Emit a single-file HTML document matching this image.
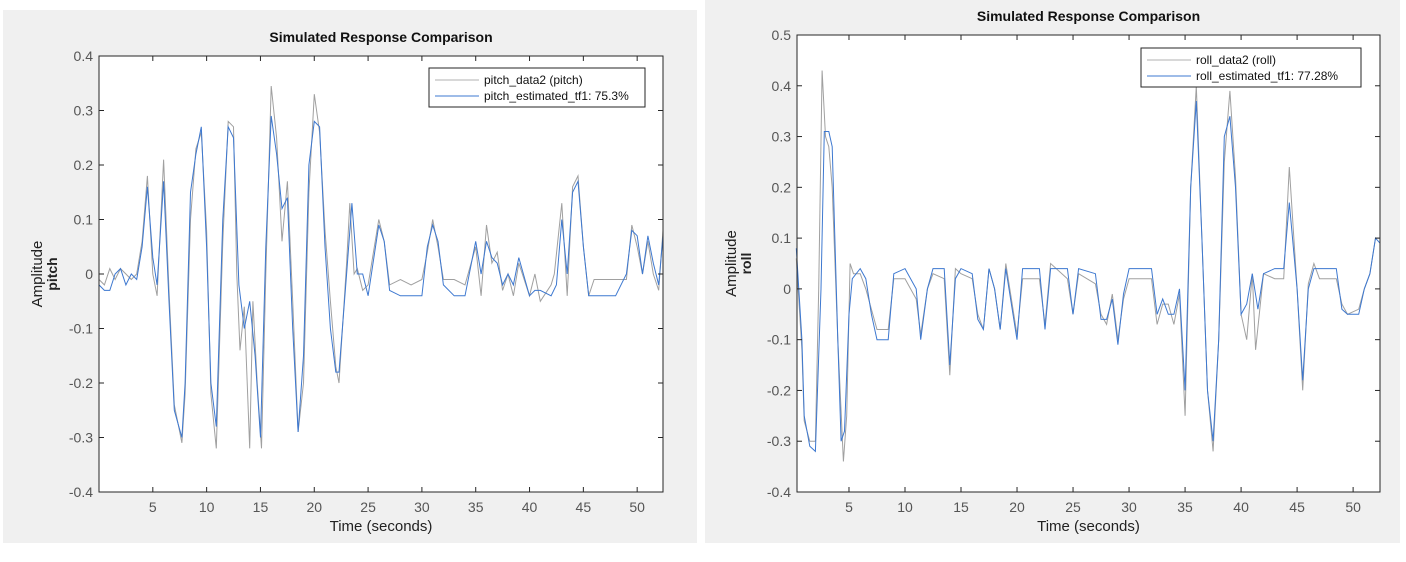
<!DOCTYPE html>
<html><head><meta charset="utf-8"><style>
body{margin:0;background:#fff;font-family:"Liberation Sans",sans-serif}
svg text{font-family:"Liberation Sans",sans-serif}
</style></head><body>
<svg id="s" width="1406" height="557">
<rect x="3" y="10" width="694" height="533" fill="#f0f0f0"/>
<rect x="705" y="0" width="695" height="543" fill="#f0f0f0"/>
<g id="g1"></g>
<g id="g2"></g>
</svg>
<script>
// pitch chart data
const pitchEstT=[0,0.5,1,1.5,2,2.5,3,3.5,4,4.5,5,5.4,6,6.5,7,7.7,8,8.5,9,9.5,10,10.4,10.9,11.5,12,12.5,13,13.5,14,14.5,15,15.5,16,16.5,17,17.5,18,18.5,19,19.5,20,20.5,21,21.5,22,22.3,23,23.5,24,24.5,25,26,26.5,27,28,30,30.5,31,31.5,32,33,34,35,35.5,36,36.5,37,37.5,38,38.5,39,40,40.5,41,42,42.5,43,43.5,44,44.5,45,45.5,46,48,49,49.5,50,50.5,51,51.5,52,52.4];
const pitchEstV=[-0.02,-0.03,-0.03,0.0,0.01,-0.02,0.0,-0.01,0.05,0.16,0.03,-0.02,0.17,-0.05,-0.25,-0.30,-0.2,0.15,0.22,0.27,0.05,-0.2,-0.28,0.1,0.27,0.25,-0.02,-0.1,-0.05,-0.15,-0.3,0.05,0.29,0.22,0.12,0.14,-0.1,-0.29,-0.15,0.2,0.28,0.27,0.05,-0.1,-0.18,-0.18,0.0,0.13,0.0,0.0,-0.04,0.09,0.06,-0.03,-0.04,-0.04,0.05,0.09,0.06,-0.02,-0.04,-0.04,0.06,0.0,0.06,0.03,0.02,-0.02,0.0,-0.02,0.03,-0.04,-0.03,-0.03,-0.04,-0.02,0.1,0.0,0.15,0.17,0.05,-0.04,-0.04,-0.04,0.0,0.08,0.07,0.0,0.07,0.02,-0.02,0.07];
const pitchDataT=[0,0.5,1,1.5,2,2.5,3,3.5,4,4.5,5,5.4,6,6.5,7,7.7,8,8.5,9,9.5,10,10.4,10.9,11.5,12,12.5,12.8,13.1,13.5,14,14.3,14.7,15.1,15.5,16,16.5,17,17.5,18,18.5,19,19.5,20,20.5,21,21.5,22,22.3,23,23.3,23.7,24,24.5,25,26,26.5,27,28,29,30,30.5,31,31.5,32,33,34,35,35.5,36,36.5,37,37.5,38,38.5,39,40,40.5,41,42,42.3,43,43.5,44,44.5,45,45.5,46,47,48,49,49.5,50,50.5,51,51.5,52,52.4];
const pitchDataV=[-0.01,-0.02,0.01,-0.01,0.01,0.0,-0.01,0.0,0.06,0.18,0.0,-0.04,0.21,-0.03,-0.24,-0.31,-0.22,0.1,0.23,0.26,0.08,-0.22,-0.32,0.06,0.28,0.27,0.0,-0.14,-0.06,-0.32,-0.05,-0.2,-0.32,0.0,0.345,0.25,0.06,0.17,-0.05,-0.29,-0.2,0.15,0.33,0.26,0.08,-0.05,-0.17,-0.2,0.02,0.13,0.0,0.01,-0.03,-0.02,0.1,0.06,-0.02,-0.01,-0.02,-0.01,0.04,0.1,0.05,-0.01,-0.01,-0.02,0.05,-0.04,0.09,0.02,0.04,-0.03,0.0,-0.04,0.02,-0.04,0.0,-0.05,-0.02,0.0,0.13,-0.04,0.16,0.18,0.05,-0.04,-0.01,-0.01,-0.01,-0.01,0.09,0.05,0.0,0.06,0.0,-0.03,0.08];
const pitchYTicks=[-0.4,-0.3,-0.2,-0.1,0,0.1,0.2,0.3,0.4];
const xTicks=[5,10,15,20,25,30,35,40,45,50];
// roll chart data
const rollEstT=[0.3,0.8,1,1.5,2,2.5,2.8,3.2,3.5,4,4.3,4.6,5,5.3,6,6.5,7,7.5,8.5,9,10,11,11.4,12,12.5,13.5,14,14.5,15,16,16.5,17,17.5,18,18.5,19,20,20.5,22,22.5,23,24.5,25,25.5,27,27.5,28,28.5,29,29.5,30,32,32.5,33,33.5,34,34.5,35,35.5,36,36.5,37,37.5,38,38.5,39,39.5,40,40.5,41,41.5,42,43,43.8,44.3,45,45.5,46,46.5,47,48.5,49,49.5,50.5,51,51.5,52,52.4];
const rollEstV=[0.08,-0.1,-0.25,-0.31,-0.32,0.0,0.31,0.31,0.28,-0.1,-0.3,-0.28,-0.05,0.02,0.04,0.02,-0.05,-0.1,-0.1,0.03,0.04,0.0,-0.1,0.0,0.04,0.04,-0.15,0.02,0.04,0.03,-0.06,-0.08,0.04,0.0,-0.08,0.04,-0.1,0.04,0.04,-0.08,0.04,0.04,-0.05,0.04,0.03,-0.06,-0.06,-0.02,-0.11,-0.01,0.04,0.04,-0.05,-0.02,-0.05,-0.05,0.0,-0.2,0.2,0.37,0.1,-0.2,-0.3,-0.1,0.3,0.34,0.2,-0.05,-0.03,0.03,-0.04,0.03,0.04,0.04,0.17,0.0,-0.18,0.0,0.04,0.04,0.04,-0.04,-0.05,-0.05,0.0,0.03,0.1,0.09];
const rollDataT=[0.3,0.8,1,1.5,2,2.3,2.6,2.9,3.2,3.5,4,4.5,4.8,5.1,5.4,6,6.5,7,7.5,8.5,9,10,11,11.4,12,12.5,13.5,14,14.5,15,16,16.5,17,17.5,18,18.5,19,20,20.5,22,22.5,23,24.5,25,25.5,27,27.5,28,28.5,29,29.5,30,32,32.5,33,33.5,34,34.5,35,35.5,36,36.5,37,37.5,38,38.5,39,39.5,40,40.5,41,41.3,42,43,43.8,44.3,45,45.5,46,46.5,47,48.5,49,49.5,50.5,51,51.5,52,52.4];
const rollDataV=[0.06,-0.12,-0.26,-0.3,-0.3,0.0,0.43,0.3,0.28,0.2,-0.1,-0.34,-0.25,0.05,0.03,0.03,0.0,-0.04,-0.08,-0.08,0.02,0.02,-0.02,-0.09,0.0,0.03,0.02,-0.17,0.04,0.03,0.02,-0.05,-0.08,0.04,0.0,-0.08,0.05,-0.09,0.02,0.02,-0.07,0.05,0.02,-0.05,0.03,0.01,-0.05,-0.07,-0.01,-0.1,-0.02,0.02,0.02,-0.07,-0.03,-0.03,-0.07,-0.01,-0.25,0.2,0.4,0.1,-0.2,-0.32,-0.1,0.25,0.39,0.22,-0.05,-0.1,0.03,-0.12,0.03,0.02,0.02,0.24,0.0,-0.2,0.01,0.05,0.02,0.02,-0.03,-0.05,-0.04,0.0,0.03,0.1,0.1];
const rollYTicks=[-0.4,-0.3,-0.2,-0.1,0,0.1,0.2,0.3,0.4,0.5];

const NS='http://www.w3.org/2000/svg';
function mk(p,tag,attrs){const e=document.createElementNS(NS,tag);for(const k in attrs)e.setAttribute(k,attrs[k]);p.appendChild(e);return e;}
function chart(g,cfg){
  const sx=t=>cfg.L+(t-cfg.x0)/(cfg.x1-cfg.x0)*(cfg.R-cfg.L);
  const sy=v=>cfg.B-(v-cfg.y0)/(cfg.y1-cfg.y0)*(cfg.B-cfg.T);
  const bg=mk(g,'rect',{x:cfg.L,y:cfg.T,width:cfg.R-cfg.L,height:cfg.B-cfg.T,fill:'#fff'});
  
  
  const line=(T,V,col,name)=>{
    const d=T.map((t,i)=>(i?'L':'M')+sx(t).toFixed(1)+' '+sy(V[i]).toFixed(1)).join(' ');
    const p=mk(g,'path',{d:d,fill:'none',stroke:col,'stroke-width':1});
    
    
  };
  line(cfg.dT,cfg.dV,'#a0a0a0',cfg.n1+'-line');
  line(cfg.eT,cfg.eV,'#3d78d0',cfg.n2+'-line');
  const ax=mk(g,'rect',{x:cfg.L,y:cfg.T,width:cfg.R-cfg.L,height:cfg.B-cfg.T,fill:'none',stroke:'#262626','stroke-width':1});
  
  
  cfg.yt.forEach(v=>{
    const y=sy(v);
    mk(g,'line',{x1:cfg.L,x2:cfg.L+5,y1:y,y2:y,stroke:'#262626'});
    mk(g,'line',{x1:cfg.R,x2:cfg.R-5,y1:y,y2:y,stroke:'#262626'});
    const t=mk(g,'text',{x:cfg.L-6,y:y+5,'text-anchor':'end','font-size':14,fill:'#555'});
    t.textContent=(v===0?'0':v.toFixed(1));
    
    
  });
  xTicks.forEach(v=>{
    const x=sx(v);
    mk(g,'line',{x1:x,x2:x,y1:cfg.B,y2:cfg.B-5,stroke:'#262626'});
    mk(g,'line',{x1:x,x2:x,y1:cfg.T,y2:cfg.T+5,stroke:'#262626'});
    const t=mk(g,'text',{x:x,y:cfg.B+20,'text-anchor':'middle','font-size':14,fill:'#555'});
    t.textContent=v;
    
    
  });
  const ti=mk(g,'text',{x:(cfg.L+cfg.R)/2,y:cfg.T-14,'text-anchor':'middle','font-size':14,'font-weight':'bold',fill:'#111'});
  ti.textContent='Simulated Response Comparison';
  
  
  const xl=mk(g,'text',{x:(cfg.L+cfg.R)/2,y:cfg.B+39,'text-anchor':'middle','font-size':15,fill:'#222'});
  xl.textContent='Time (seconds)';
  
  
  const cy=(cfg.T+cfg.B)/2;
  const yl=mk(g,'text',{x:cfg.ylx,y:cy,'text-anchor':'middle','font-size':15,fill:'#222',transform:`rotate(-90 ${cfg.ylx} ${cy})`});
  yl.textContent='Amplitude';
  
  
  const yl2=mk(g,'text',{x:cfg.ylx+15,y:cy,'text-anchor':'middle','font-size':14,'font-weight':'bold',fill:'#222',transform:`rotate(-90 ${cfg.ylx+15} ${cy})`});
  yl2.textContent=cfg.ch;
  
  
  const lg=mk(g,'g',{});
  
  
  mk(lg,'rect',{x:cfg.lx,y:cfg.ly,width:cfg.lw,height:39,fill:'#fff',stroke:'#262626'});
  [[cfg.n1,'#b0b0b0'],[cfg.n2label,'#3d78d0']].forEach((e,i)=>{
    const yy=cfg.ly+12+i*16;
    mk(lg,'line',{x1:cfg.lx+6,x2:cfg.lx+50,y1:yy,y2:yy,stroke:e[1]});
    const t=mk(lg,'text',{x:cfg.lx+55,y:yy+4,'font-size':12,fill:'#111'});
    t.textContent=e[0];
    
    
  });
}
chart(document.getElementById('g1'),{L:99,R:663,T:56,B:492,x0:0,x1:52.4,y0:-0.4,y1:0.4,dT:pitchDataT,dV:pitchDataV,eT:pitchEstT,eV:pitchEstV,yt:pitchYTicks,n1:'pitch_data2 (pitch)',n2:'pitch-estimated',n2label:'pitch_estimated_tf1: 75.3%',ch:'pitch',ylx:42,lx:429,ly:68,lw:216});
chart(document.getElementById('g2'),{L:797,R:1380,T:35,B:492,x0:0.36,x1:52.4,y0:-0.4,y1:0.5,dT:rollDataT,dV:rollDataV,eT:rollEstT,eV:rollEstV,yt:rollYTicks,n1:'roll_data2 (roll)',n2:'roll-estimated',n2label:'roll_estimated_tf1: 77.28%',ch:'roll',ylx:736,lx:1141,ly:48,lw:220});
</script>
</body></html>
